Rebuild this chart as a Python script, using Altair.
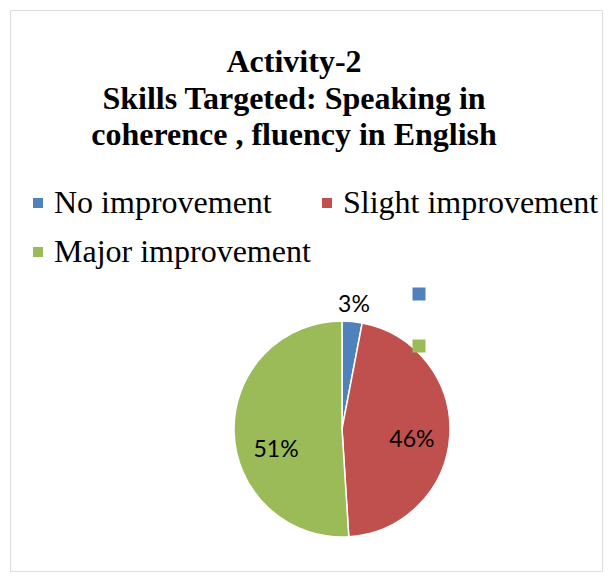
import altair as alt
import pandas as pd

categories = ["No improvement", "Slight improvement", "Major improvement"]
percentages = [3, 46, 51]
labels = ["3%", "46%", "51%"]
colors = ["#4F81BD", "#C0504D", "#9BBB59"]
title_lines = ["Activity-2", "Skills Targeted: Speaking in", "coherence , fluency in English"]

df = pd.DataFrame({
    "category": categories,
    "value": percentages,
    "label": labels,
    "order": list(range(len(categories))),
})

W, H = 592, 561
CX, CY = 332, 419
R = 108

color = alt.Color(
    "category:N",
    scale=alt.Scale(domain=categories, range=colors),
    legend=alt.Legend(
        orient="none", legendX=12, legendY=177, columns=2, direction="horizontal",
        symbolType="square", symbolSize=100, symbolStrokeWidth=0,
        labelFont="Liberation Serif", labelFontSize=32, labelColor="black",
        labelOffset=0, columnPadding=0, rowPadding=17, labelLimit=0,
        padding=0, title=None,
    ),
)

base = alt.Chart(df).encode(
    theta=alt.Theta("value:Q", stack=True),
    order=alt.Order("order:Q"),
    x=alt.value(CX),
    y=alt.value(CY),
)

pie = base.mark_arc(outerRadius=R, stroke="white", strokeWidth=1.5).encode(color=color)


def label_layer(cat, radius, dy):
    return base.transform_calculate(
        lab=f"datum.category == '{cat}' ? datum.label : ''"
    ).mark_text(
        radius=radius, dy=dy, font="Lato", fontSize=23, color="black",
        align="center", baseline="middle",
    ).encode(text="lab:N")


lab1 = label_layer("No improvement", 127, 2)
lab2 = label_layer("Slight improvement", 70, 7)
lab3 = label_layer("Major improvement", 66, 19)

sq_color = alt.Color("category:N", scale=alt.Scale(domain=categories, range=colors), legend=None)
sq_blue = alt.Chart(df).transform_filter("datum.category == 'No improvement'").mark_square(
    size=169, opacity=1
).encode(x=alt.value(409), y=alt.value(284), color=sq_color)
sq_green = alt.Chart(df).transform_filter("datum.category == 'Major improvement'").mark_square(
    size=169, opacity=1
).encode(x=alt.value(409), y=alt.value(336), color=sq_color)

chart = alt.layer(pie, lab1, lab2, lab3, sq_blue, sq_green).properties(
    width=W, height=H,
    autosize=alt.AutoSizeParams(type="none"),
    padding=2,
    title=alt.TitleParams(
        text=title_lines, font="Liberation Serif", fontSize=32, fontWeight="bold",
        color="black", lineHeight=36.5, anchor="middle", orient="top", frame="group",
        baseline="top", offset=0, dy=142, dx=-12,
    ),
).configure_view(stroke="#898989", strokeWidth=2).configure(background="white")

chart.save("out.html", embed_options={"renderer": "svg", "actions": False})
